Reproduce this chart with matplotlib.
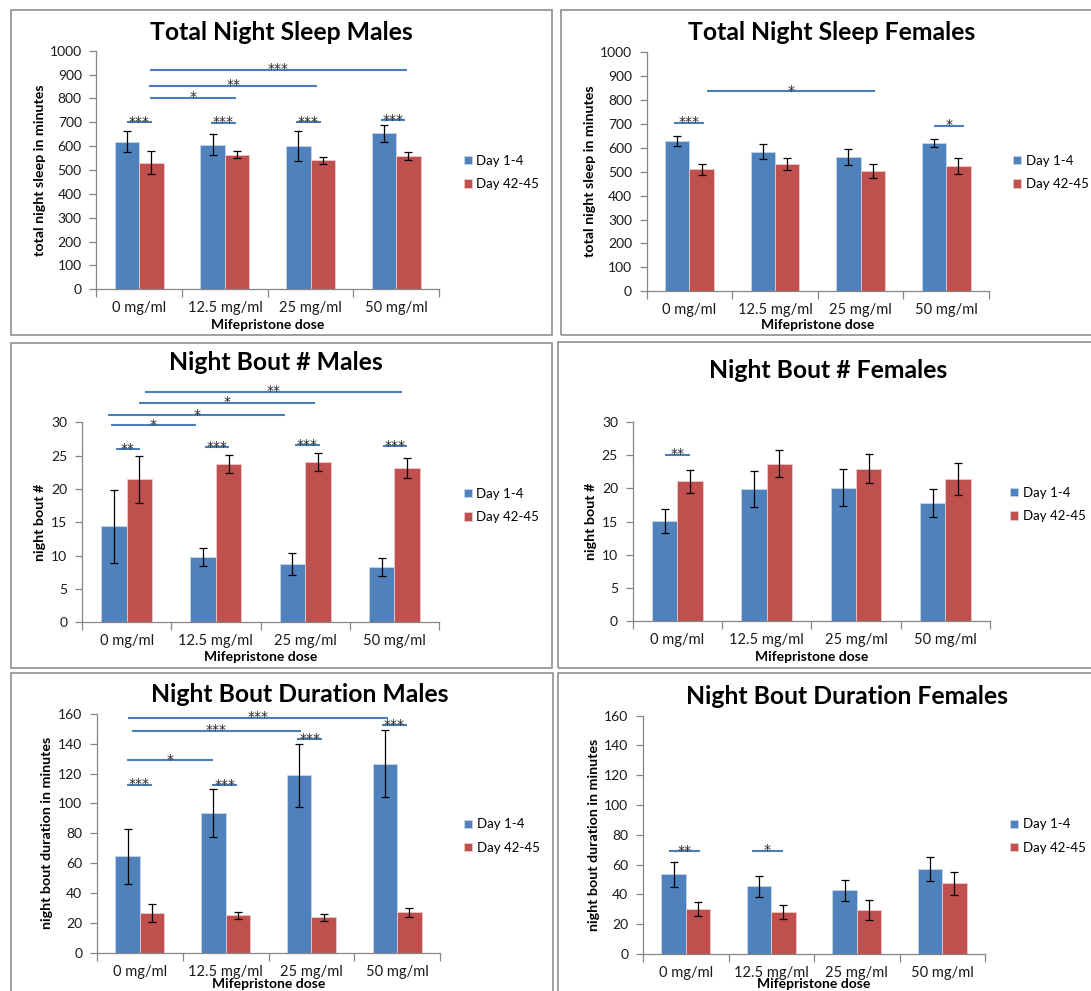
import matplotlib
matplotlib.use("Agg")
import matplotlib.pyplot as plt
from matplotlib.patches import Rectangle
import numpy as np

plt.rcParams["font.family"] = ["Lato", "DejaVu Sans"]

# ---------------------------------------------------------------- data
categories = ["0 mg/ml", "12.5 mg/ml", "25 mg/ml", "50 mg/ml"]
series_labels = ["Day 1-4", "Day 42-45"]
x_title = "Mifepristone dose"

# Total night sleep (minutes)
sleep_m_d1 = [619, 606, 601, 653]
sleep_m_d1_err = [45, 43, 64, 35]
sleep_m_d42 = [531, 564, 540, 559]
sleep_m_d42_err = [49, 14, 14, 16]

sleep_f_d1 = [628, 584, 560, 619]
sleep_f_d1_err = [20, 31, 33, 17]
sleep_f_d42 = [510, 532, 504, 525]
sleep_f_d42_err = [22, 26, 29, 33]

# Night bout number
bouts_m_d1 = [14.4, 9.8, 8.75, 8.3]
bouts_m_d1_err = [5.45, 1.4, 1.7, 1.4]
bouts_m_d42 = [21.45, 23.75, 24.05, 23.1]
bouts_m_d42_err = [3.5, 1.3, 1.35, 1.5]

bouts_f_d1 = [15.15, 19.95, 20.1, 17.8]
bouts_f_d1_err = [1.8, 2.7, 2.75, 2.15]
bouts_f_d42 = [21.05, 23.75, 23.0, 21.45]
bouts_f_d42_err = [1.7, 2.1, 2.25, 2.4]

# Night bout duration (minutes)
dur_m_d1 = [64.6, 93.8, 118.9, 126.7]
dur_m_d1_err = [18.4, 16.0, 21.0, 22.3]
dur_m_d42 = [26.8, 25.3, 23.8, 27.3]
dur_m_d42_err = [6.2, 2.3, 2.1, 2.9]

dur_f_d1 = [53.7, 45.4, 42.7, 57.1]
dur_f_d1_err = [8.4, 7.2, 7.3, 7.8]
dur_f_d42 = [30.0, 28.5, 29.5, 47.5]
dur_f_d42_err = [4.7, 4.7, 6.6, 7.8]

# Significance brackets: (from category, to category, height, stars)
sig_sleep_m = [(-0.14, 0.146, 701, "***"), (0.842, 1.125, 698, "***"),
               (1.833, 2.117, 701, "***"), (2.817, 3.108, 708, "***"),
               (0.125, 1.125, 803, "*"), (0.117, 2.079, 853, "**"),
               (0.125, 3.125, 920, "***")]
sig_sleep_f = [(-0.184, 0.176, 705, "***"), (0.2, 2.164, 837, "*"),
               (2.852, 3.203, 692, "*")]
sig_bouts_m = [(-0.124, 0.148, 25.95, "**"), (0.88, 1.152, 26.25, "***"),
               (1.888, 2.164, 26.6, "***"), (2.868, 3.144, 26.4, "***"),
               (-0.18, 0.776, 29.6, "*"), (-0.208, 1.78, 31.1, "*"),
               (0.136, 2.116, 32.95, "*"), (0.204, 3.084, 34.6, "**")]
sig_bouts_f = [(-0.14, 0.14, 25.1, "**")]
sig_dur_m = [(-0.146, 0.1375, 112.5, "***"), (0.846, 1.133, 112.1, "***"),
             (1.833, 2.125, 143.1, "***"), (2.825, 3.1125, 152.4, "***"),
             (-0.146, 0.858, 128.8, "*"), (-0.092, 1.879, 148.6, "***"),
             (-0.133, 2.888, 157.3, "***")]
sig_dur_f = [(-0.192, 0.172, 68.9, "**"), (0.776, 1.136, 69.4, "*")]

# ---------------------------------------------------------------- style
BLUE = "#4F81BD"
RED = "#C0504D"
AXIS_GREY = "#868686"
SIG_BLUE = "#4A7EBB"
W, H = 1091, 991


def fx(x):
    return x / W


def fy(y):
    return 1 - y / H


panels = [
    dict(title="Total Night Sleep Males", ylabel="total night sleep in minutes",
         d1=sleep_m_d1, e1=sleep_m_d1_err, d2=sleep_m_d42, e2=sleep_m_d42_err,
         sig=sig_sleep_m, ymax=1000, step=100,
         box=(96.4, 439, 50.7, 289.3), frame=(10.5, 552, 10, 334.5),
         title_xy=(281, 33), xlab_y=325, ylab_x=40, leg=(463.6, 172.5)),
    dict(title="Total Night Sleep Females", ylabel="total night sleep in minutes",
         d1=sleep_f_d1, e1=sleep_f_d1_err, d2=sleep_f_d42, e2=sleep_f_d42_err,
         sig=sig_sleep_f, ymax=1000, step=100,
         box=(646.6, 989, 52, 291.3), frame=(561, 1100, 10, 334.5),
         title_xy=(831.5, 33), xlab_y=325, ylab_x=590, leg=(1013, 172.5)),
    dict(title="Night Bout # Males", ylabel="night bout #",
         d1=bouts_m_d1, e1=bouts_m_d1_err, d2=bouts_m_d42, e2=bouts_m_d42_err,
         sig=sig_bouts_m, ymax=30, step=5,
         box=(82, 439, 422.3, 622.3), frame=(10.5, 552, 343, 668),
         title_xy=(276, 363), xlab_y=657.3, ylab_x=40.4, leg=(463.6, 505.5)),
    dict(title="Night Bout # Females", ylabel="night bout #",
         d1=bouts_f_d1, e1=bouts_f_d1_err, d2=bouts_f_d42, e2=bouts_f_d42_err,
         sig=sig_bouts_f, ymax=30, step=5,
         box=(632.6, 990, 422, 621.3), frame=(558, 1100, 342, 668),
         title_xy=(828, 371), xlab_y=657, ylab_x=591, leg=(1010.4, 504.5)),
    dict(title="Night Bout Duration Males", ylabel="night bout duration in minutes",
         d1=dur_m_d1, e1=dur_m_d1_err, d2=dur_m_d42, e2=dur_m_d42_err,
         sig=sig_dur_m, ymax=160, step=20,
         box=(97, 440, 713.7, 953), frame=(10.5, 553, 673, 1005),
         title_xy=(300, 695), xlab_y=984, ylab_x=47.5, leg=(464, 836)),
    dict(title="Night Bout Duration Females", ylabel="night bout duration in minutes",
         d1=dur_f_d1, e1=dur_f_d1_err, d2=dur_f_d42, e2=dur_f_d42_err,
         sig=sig_dur_f, ymax=160, step=20,
         box=(643, 985, 715.7, 954), frame=(557.5, 1100, 673, 1005),
         title_xy=(846.5, 696), xlab_y=984, ylab_x=594, leg=(1010.4, 836)),
]

fig = plt.figure(figsize=(W / 100, H / 100), dpi=100)
fig.patch.set_facecolor("white")

x = np.arange(len(categories))
bw = 0.285
err_style = dict(ecolor="black", elinewidth=0.9, capsize=2.8, capthick=0.9)

for p in panels:
    # panel frame
    fx0, fx1, fy0, fy1 = p["frame"]
    fig.add_artist(Rectangle((fx(fx0), fy(fy1)), (fx1 - fx0) / W, (fy1 - fy0) / H,
                             transform=fig.transFigure, fill=False,
                             edgecolor="#8f8f8f", linewidth=1.2))

    xl, xr, yt, y0 = p["box"]
    ax = fig.add_axes([fx(xl), fy(y0), (xr - xl) / W, (y0 - yt) / H])
    ax.patch.set_alpha(0)

    b1 = ax.bar(x - bw / 2, p["d1"], bw, yerr=p["e1"], color=BLUE,
                edgecolor="#C6D5E8", linewidth=0.6, error_kw=err_style,
                label=series_labels[0], zorder=2)
    b2 = ax.bar(x + bw / 2, p["d2"], bw, yerr=p["e2"], color=RED,
                edgecolor="#EBC9C8", linewidth=0.6, error_kw=err_style,
                label=series_labels[1], zorder=2)

    ax.set_xlim(-0.5, len(categories) - 0.5)
    ax.set_ylim(0, p["ymax"])
    ax.set_yticks(np.arange(0, p["ymax"] + p["step"] / 2, p["step"]))
    for s in ("top", "right"):
        ax.spines[s].set_visible(False)
    for s in ("left", "bottom"):
        ax.spines[s].set_color(AXIS_GREY)
        ax.spines[s].set_linewidth(0.9)

    ax.tick_params(axis="y", direction="out", length=5, width=0.9,
                   color=AXIS_GREY, pad=5.5, labelsize=10, labelcolor="#1a1a1a")
    ax.set_xticks(x, categories)
    ax.tick_params(axis="x", which="major", length=0, pad=8.5, labelsize=10.5,
                   labelcolor="#1a1a1a")
    ax.set_xticks(np.arange(-0.5, len(categories), 1), minor=True)
    ax.tick_params(axis="x", which="minor", direction="out", length=5.5,
                   width=0.9, color=AXIS_GREY)

    # significance brackets
    for a, b, yv, lab in p["sig"]:
        ax.plot([a, b], [yv, yv], color=SIG_BLUE, linewidth=1.5,
                solid_capstyle="butt", clip_on=False, zorder=3)
        ax.annotate(lab, xy=((a + b) / 2, yv), xytext=(0, -2.6),
                    textcoords="offset points", ha="center", va="baseline",
                    fontsize=10, family="DejaVu Sans", color="#262626",
                    annotation_clip=False)

    # titles and axis labels
    fig.text(fx(p["title_xy"][0]), fy(p["title_xy"][1]), p["title"],
             ha="center", va="center", fontsize=17.8, fontweight="bold")
    fig.text(fx((xl + xr) / 2), fy(p["xlab_y"]), x_title,
             ha="center", va="center", fontsize=10, fontweight="bold")
    fig.text(fx(p["ylab_x"]), fy((yt + y0) / 2), p["ylabel"], rotation=90,
             ha="center", va="center", fontsize=10.3, fontweight="bold")

    lx, ly = p["leg"]
    ax.legend(handles=[b1, b2], labels=series_labels, loc="center left",
              bbox_to_anchor=(fx(lx), fy(ly)), bbox_transform=fig.transFigure,
              frameon=False, fontsize=9.5, handlelength=0.6, handleheight=0.6,
              handletextpad=0.35, labelspacing=0.85, borderpad=0,
              borderaxespad=0)

fig.savefig("out.png", dpi=100)
